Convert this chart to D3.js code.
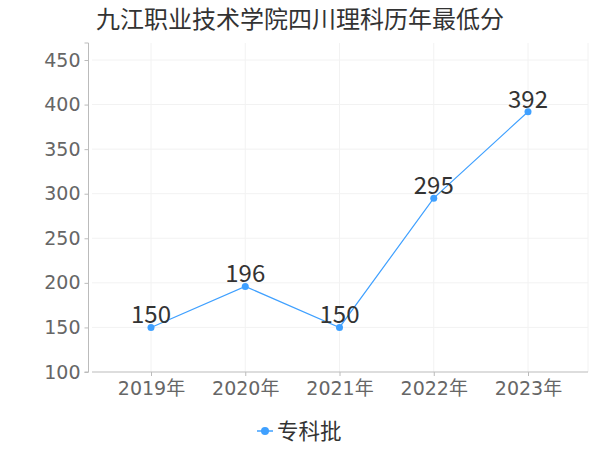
<!DOCTYPE html>
<html><head><meta charset="utf-8">
<script src="https://cdn.jsdelivr.net/npm/d3@7/dist/d3.min.js"></script>
<style>body{margin:0;background:#fff}svg{display:block}</style>
</head><body>
<svg id="c" width="600" height="450"></svg>
<script>
const title = "九江职业技术学院四川理科历年最低分";
const categories = ["2019年","2020年","2021年","2022年","2023年"];
const seriesName = "专科批";
const values = [150,196,150,295,392];
const yTicks = [100,150,200,250,300,350,400,450];

(function(){
const svg = d3.select("#c");
const font = "'DejaVu Sans','Noto Sans CJK SC',sans-serif";
const cjk = "'Noto Sans CJK SC',sans-serif";
const color = "#3fa0ff";
const pL = 92, pR = 588, pT = 43, pB = 372;

const y = d3.scaleLinear().domain([100,450]).range([pB,60]);
const x = d3.scalePoint().domain(categories).range([151,528]);

// grid
const g = svg.append("g");
g.selectAll(".hg").data(yTicks.slice(1)).enter().append("line")
  .attr("x1",pL).attr("x2",pR).attr("y1",d=>y(d)).attr("y2",d=>y(d))
  .attr("stroke","#f2f2f2").attr("stroke-width",1);
g.selectAll(".vg").data(categories).enter().append("line")
  .attr("x1",d=>x(d)).attr("x2",d=>x(d)).attr("y1",pT).attr("y2",pB)
  .attr("stroke","#f2f2f2").attr("stroke-width",1);
g.append("line").attr("x1",pR).attr("x2",pR).attr("y1",pT).attr("y2",pB)
  .attr("stroke","#f2f2f2");

// axes
const yAxis = d3.axisLeft(y).tickValues(yTicks).tickSize(4).tickPadding(4);
const ya = svg.append("g").attr("transform","translate(88.5,0)").call(yAxis);
ya.select(".domain").attr("d",`M-4,${pT}H0V${pB}H-4`).attr("stroke","#bbb");
ya.selectAll(".tick line").attr("stroke","#bbb");
ya.selectAll("text").attr("font-family",font).attr("font-size",19).attr("fill","#666");

const xAxis = d3.axisBottom(x).tickSize(4).tickPadding(6);
const xa = svg.append("g").attr("transform",`translate(0,${pB})`).call(xAxis);
xa.select(".domain").attr("d",`M${pL},0H${pR}`).attr("stroke","#bbb");
xa.selectAll(".tick line").attr("stroke","#bbb");
xa.selectAll("text").attr("font-family",font).attr("font-size",19).attr("fill","#666");

// line
const line = d3.line().x((d,i)=>x(categories[i])).y(d=>y(d));
svg.append("path").datum(values).attr("d",line).attr("fill","none")
  .attr("stroke",color).attr("stroke-width",1.2);
svg.selectAll(".pt").data(values).enter().append("circle")
  .attr("cx",(d,i)=>x(categories[i])).attr("cy",d=>y(d)).attr("r",3.5).attr("fill",color);
svg.selectAll(".lbl").data(values).enter().append("text")
  .attr("x",(d,i)=>x(categories[i])).attr("y",d=>y(d)-4)
  .attr("text-anchor","middle").attr("font-family",cjk).attr("font-size",24)
  .attr("fill","#333").text(d=>d);

// title
svg.append("text").attr("x",300).attr("y",28).attr("text-anchor","middle")
  .attr("font-family",cjk).attr("font-size",24).attr("fill","#333").text(title);

// legend
svg.append("line").attr("x1",257).attr("x2",273).attr("y1",431).attr("y2",431)
  .attr("stroke",color).attr("stroke-width",1.5);
svg.append("circle").attr("cx",265).attr("cy",431).attr("r",4).attr("fill",color);
svg.append("text").attr("x",277).attr("y",439).attr("font-family",cjk)
  .attr("font-size",21.5).attr("fill","#333").text(seriesName);
})();
</script>
</body></html>
